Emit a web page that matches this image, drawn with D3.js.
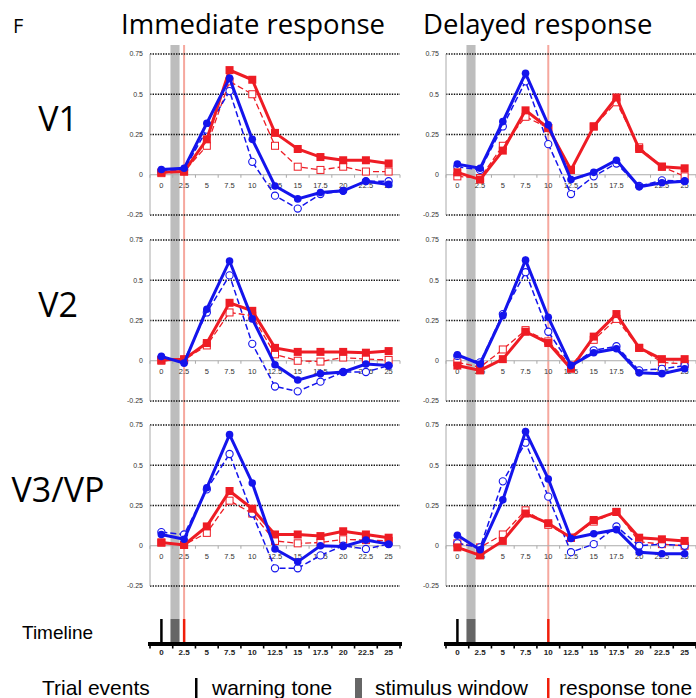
<!DOCTYPE html>
<html>
<head>
<meta charset="utf-8">
<script src="https://cdn.jsdelivr.net/npm/d3@7"></script>
<style>
  body { margin: 0; background: #fff; }
  svg { display: block; }
</style>
</head>
<body>
<script>
// time bins (s) shared by every panel
var xVals = [0, 2.5, 5, 7.5, 10, 12.5, 15, 17.5, 20, 22.5, 25];
var yTicks = [0.75, 0.5, 0.25, 0, -0.25];
var yTickLabels = ["0.75", "0.5", "0.25", "0", "-0.25"];
var xTickLabels = ["0", "2.5", "5", "7.5", "10", "12.5", "15", "17.5", "20", "22.5", "25"];
var rowNames = ["V1", "V2", "V3/VP"];
var colNames = ["Immediate response", "Delayed response"];
var responseTone = [2.5, 10];   // response tone time per column
var stimWindow = [1, 2];        // stimulus window
var warningTone = 0;

// immediate response, V1
var immV1Blue     = [0.033, 0.04, 0.32, 0.60, 0.22, -0.07, -0.15, -0.11, -0.10, -0.04, -0.06];
var immV1BlueDash = [0.02, 0.03, 0.28, 0.52, 0.08, -0.13, -0.21, -0.12, -0.10, -0.04, -0.04];
var immV1Red      = [0.015, 0.02, 0.22, 0.65, 0.59, 0.26, 0.16, 0.11, 0.09, 0.09, 0.07];
var immV1RedDash  = [0.01, 0.02, 0.18, 0.58, 0.50, 0.18, 0.05, 0.03, 0.05, 0.02, 0.02];
// delayed response, V1
var delV1Blue     = [0.066, 0.04, 0.33, 0.63, 0.31, -0.03, 0.015, 0.09, -0.075, -0.05, -0.04];
var delV1BlueDash = [0.05, 0.03, 0.30, 0.58, 0.19, -0.12, -0.01, 0.07, -0.07, -0.035, -0.04];
var delV1Red      = [0.015, -0.03, 0.15, 0.40, 0.29, 0.03, 0.30, 0.48, 0.16, 0.05, 0.04];
var delV1RedDash  = [-0.01, -0.02, 0.18, 0.36, 0.29, 0.03, 0.30, 0.45, 0.17, 0.05, -0.01];
// immediate response, V2
var immV2Blue     = [0.027, -0.015, 0.32, 0.62, 0.26, -0.025, -0.12, -0.08, -0.07, -0.02, -0.03];
var immV2BlueDash = [0.02, 0.0, 0.30, 0.53, 0.105, -0.16, -0.19, -0.13, -0.07, -0.07, -0.03];
var immV2Red      = [0.005, 0.01, 0.11, 0.36, 0.31, 0.08, 0.055, 0.055, 0.055, 0.05, 0.06];
var immV2RedDash  = [0.0, 0.005, 0.095, 0.30, 0.28, 0.04, 0.0, -0.005, 0.02, 0.01, 0.005];
// delayed response, V2
var delV2Blue     = [0.037, -0.02, 0.28, 0.625, 0.27, -0.03, 0.05, 0.075, -0.075, -0.08, -0.05];
var delV2BlueDash = [0.03, -0.01, 0.29, 0.55, 0.18, -0.03, 0.065, 0.09, -0.06, -0.05, -0.03];
var delV2Red      = [-0.03, -0.06, 0.01, 0.18, 0.11, -0.05, 0.15, 0.29, 0.08, 0.01, 0.01];
var delV2RedDash  = [-0.01, -0.04, 0.07, 0.19, 0.12, -0.03, 0.13, 0.26, 0.08, -0.01, -0.02];
// immediate response, V3/VP
var immV3Blue     = [0.07, 0.04, 0.36, 0.69, 0.39, -0.02, -0.10, 0.0, -0.005, 0.035, 0.01];
var immV3BlueDash = [0.085, 0.07, 0.35, 0.57, 0.20, -0.14, -0.14, -0.06, 0.0, -0.02, 0.01];
var immV3Red      = [0.02, 0.005, 0.12, 0.34, 0.23, 0.07, 0.07, 0.06, 0.09, 0.07, 0.05];
var immV3RedDash  = [0.02, 0.005, 0.08, 0.28, 0.20, 0.03, 0.015, 0.02, 0.04, 0.035, 0.03];
// delayed response, V3/VP
var delV3Blue     = [0.065, -0.025, 0.285, 0.71, 0.415, 0.045, 0.075, 0.10, -0.04, -0.05, -0.05];
var delV3BlueDash = [0.015, -0.01, 0.40, 0.64, 0.305, -0.04, 0.01, 0.12, 0.0, 0.01, 0.0];
var delV3Red      = [-0.01, -0.06, 0.03, 0.20, 0.14, 0.05, 0.16, 0.21, 0.05, 0.04, 0.03];
var delV3RedDash  = [0.015, -0.01, 0.07, 0.22, 0.13, 0.05, 0.15, 0.21, 0.025, 0.01, 0.0];

var panels = [
    [[immV1Blue, immV1BlueDash, immV1Red, immV1RedDash], [delV1Blue, delV1BlueDash, delV1Red, delV1RedDash]],
    [[immV2Blue, immV2BlueDash, immV2Red, immV2RedDash], [delV2Blue, delV2BlueDash, delV2Red, delV2RedDash]],
    [[immV3Blue, immV3BlueDash, immV3Red, immV3RedDash], [delV3Blue, delV3BlueDash, delV3Red, delV3RedDash]]
];

var width = 696, height = 698;
var colLeft = [150, 446], plotW = 250;
var rowTop = [54, 240, 425], plotH = 161;
var blue = "#1414ec", red = "#ee1c24";
var tickFont = "Liberation Sans, Arial, sans-serif";

var svg = d3.select("body").append("svg")
    .attr("width", width)
    .attr("height", height);

// titles
svg.append("text").attr("x", 13).attr("y", 33)
    .style("font", "20px 'Open Sans', sans-serif").text("F");
var titleX = [121, 423];
colNames.forEach(function(t, c){
    svg.append("text").attr("x", titleX[c]).attr("y", 34)
        .style("font", "27.5px 'Open Sans', sans-serif").text(t);
});

var xScales = colLeft.map(function(l){
    return d3.scaleLinear().domain([-1.25, 26.25]).range([l, l + plotW]);
});

// event markers running down each column (drawn first, behind the data)
var timelineY = 644, eventTop = 619;
xScales.forEach(function(x, c){
    svg.append("rect")
        .attr("x", x(stimWindow[0])).attr("y", 45)
        .attr("width", x(stimWindow[1]) - x(stimWindow[0]))
        .attr("height", eventTop - 45)
        .attr("fill", "#bdbdbd");
    svg.append("line")
        .attr("x1", x(responseTone[c])).attr("x2", x(responseTone[c]))
        .attr("y1", 45).attr("y2", eventTop)
        .attr("stroke", "#f6a89e").attr("stroke-width", 2);
});

rowNames.forEach(function(name, r){
    var y = d3.scaleLinear().domain([-0.25, 0.75]).range([rowTop[r] + plotH, rowTop[r]]);

    svg.append("text")
        .attr("x", 58).attr("y", y(0.345))
        .attr("dy", "0.36em")
        .attr("text-anchor", "middle")
        .style("font", "34px 'Open Sans', sans-serif")
        .text(name);

    xScales.forEach(function(x, c){
        var g = svg.append("g");

        // dotted grid lines
        g.selectAll(".grid").data(yTicks.filter(function(v){ return v !== 0; }))
            .enter().append("line")
            .attr("x1", x.range()[0]).attr("x2", x.range()[1])
            .attr("y1", function(d){ return y(d); }).attr("y2", function(d){ return y(d); })
            .attr("stroke", "#111").attr("stroke-width", 1.4)
            .attr("stroke-dasharray", "1.4,1.2");

        // left axis line
        g.append("line")
            .attr("x1", x.range()[0]).attr("x2", x.range()[0])
            .attr("y1", y(0.75)).attr("y2", y(-0.25))
            .attr("stroke", "#aaa");

        // zero axis with category ticks
        g.append("line")
            .attr("x1", x.range()[0]).attr("x2", x.range()[1])
            .attr("y1", y(0)).attr("y2", y(0))
            .attr("stroke", "#aaa");
        g.selectAll(".zt").data(d3.range(-1.25, 26.3, 2.5))
            .enter().append("line")
            .attr("x1", function(d){ return x(d); }).attr("x2", function(d){ return x(d); })
            .attr("y1", y(0)).attr("y2", y(0) + 3)
            .attr("stroke", "#aaa");

        g.selectAll(".yl").data(yTicks)
            .enter().append("text")
            .attr("x", x.range()[0] - 7)
            .attr("y", function(d){ return y(d); })
            .attr("dy", "0.35em")
            .attr("text-anchor", "end")
            .style("font", "7px " + tickFont).attr("fill", "#333")
            .text(function(d, i){ return yTickLabels[i]; });

        g.selectAll(".xl").data(xVals)
            .enter().append("text")
            .attr("x", function(d){ return x(d); })
            .attr("y", y(0) + 11)
            .attr("dy", "0.35em")
            .attr("text-anchor", "middle")
            .style("font", "7.5px " + tickFont).attr("fill", "#333")
            .text(function(d, i){ return xTickLabels[i]; });

        var series = panels[r][c];
        var line = d3.line()
            .x(function(d, i){ return x(xVals[i]); })
            .y(function(d){ return y(d); });

        // dashed series first, solid on top
        g.append("path").attr("d", line(series[3]))
            .attr("fill", "none").attr("stroke", red).attr("stroke-width", 1.3)
            .attr("stroke-dasharray", "6,3");
        g.selectAll(".rd").data(series[3]).enter().append("rect")
            .attr("x", function(d, i){ return x(xVals[i]) - 3.5; })
            .attr("y", function(d){ return y(d) - 3.5; })
            .attr("width", 7).attr("height", 7)
            .attr("fill", "#fff").attr("stroke", red).attr("stroke-width", 1);

        g.append("path").attr("d", line(series[1]))
            .attr("fill", "none").attr("stroke", blue).attr("stroke-width", 1.5)
            .attr("stroke-dasharray", "6,3");
        g.selectAll(".bd").data(series[1]).enter().append("circle")
            .attr("cx", function(d, i){ return x(xVals[i]); })
            .attr("cy", function(d){ return y(d); })
            .attr("r", 3.6)
            .attr("fill", "#fff").attr("stroke", blue).attr("stroke-width", 1.1);

        g.append("path").attr("d", line(series[2]))
            .attr("fill", "none").attr("stroke", red).attr("stroke-width", 3);
        g.selectAll(".rs").data(series[2]).enter().append("rect")
            .attr("x", function(d, i){ return x(xVals[i]) - 4; })
            .attr("y", function(d){ return y(d) - 4; })
            .attr("width", 8).attr("height", 8)
            .attr("fill", red);

        g.append("path").attr("d", line(series[0]))
            .attr("fill", "none").attr("stroke", blue).attr("stroke-width", 3);
        g.selectAll(".bs").data(series[0]).enter().append("circle")
            .attr("cx", function(d, i){ return x(xVals[i]); })
            .attr("cy", function(d){ return y(d); })
            .attr("r", 3.8)
            .attr("fill", blue);
    });
});

// timeline
svg.append("text").attr("x", 22).attr("y", 632).attr("dy", "0.35em")
    .style("font", "19px 'Liberation Sans', Arial, sans-serif").text("Timeline");

xScales.forEach(function(x, c){
    var tg = svg.append("g");
    tg.append("rect")
        .attr("x", x(warningTone) - 1.2).attr("y", eventTop)
        .attr("width", 2.5).attr("height", timelineY - eventTop)
        .attr("fill", "#000");
    tg.append("rect")
        .attr("x", x(stimWindow[0])).attr("y", eventTop)
        .attr("width", x(stimWindow[1]) - x(stimWindow[0]))
        .attr("height", timelineY - eventTop)
        .attr("fill", "#666");
    tg.append("rect")
        .attr("x", x(responseTone[c]) - 1.2).attr("y", eventTop)
        .attr("width", 2.5).attr("height", timelineY - eventTop)
        .attr("fill", "#f01e0a");
    // thick time axis
    tg.append("rect")
        .attr("x", x.range()[0] - 2).attr("y", timelineY - 2)
        .attr("width", plotW + 4).attr("height", 4)
        .attr("fill", "#000");
    tg.selectAll(".tt").data(d3.range(-1.25, 26.3, 2.5))
        .enter().append("rect")
        .attr("x", function(d){ return x(d) - 0.8; })
        .attr("y", timelineY)
        .attr("width", 1.6).attr("height", 4.5)
        .attr("fill", "#000");
    tg.selectAll(".tl").data(xVals)
        .enter().append("text")
        .attr("x", function(d){ return x(d); })
        .attr("y", timelineY + 8.5)
        .attr("dy", "0.35em")
        .attr("text-anchor", "middle")
        .style("font", "bold 8px " + tickFont).attr("fill", "#222")
        .text(function(d, i){ return xTickLabels[i]; });
});

// legend
var legY = 688;
var lg = svg.append("g").style("font", "21px 'Liberation Sans', Arial, sans-serif");
lg.append("text").attr("x", 42).attr("y", legY).attr("dy", "0.35em").text("Trial events");
lg.append("rect").attr("x", 195).attr("y", legY - 10).attr("width", 2.5).attr("height", 20).attr("fill", "#000");
lg.append("text").attr("x", 212).attr("y", legY).attr("dy", "0.35em").text("warning tone");
lg.append("rect").attr("x", 355).attr("y", legY - 10).attr("width", 7).attr("height", 20).attr("fill", "#666");
lg.append("text").attr("x", 375).attr("y", legY).attr("dy", "0.35em").text("stimulus window");
lg.append("rect").attr("x", 547).attr("y", legY - 10).attr("width", 2.5).attr("height", 20).attr("fill", "#f01e0a");
lg.append("text").attr("x", 559).attr("y", legY).attr("dy", "0.35em").text("response tone");
</script>
</body>
</html>
